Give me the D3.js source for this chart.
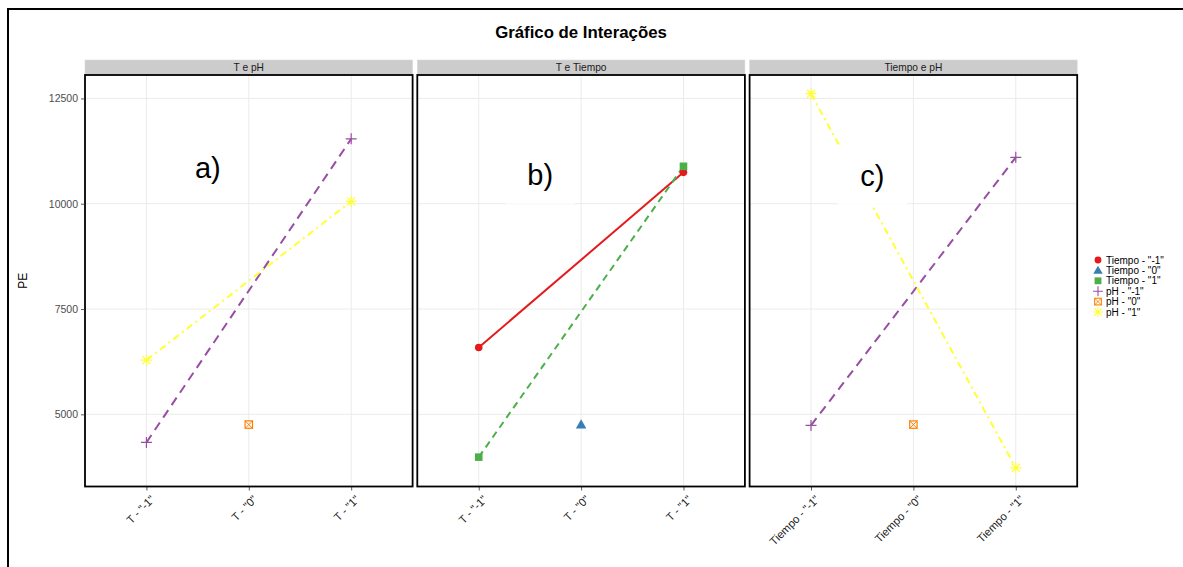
<!DOCTYPE html>
<html>
<head>
<meta charset="utf-8">
<script src="https://cdn.jsdelivr.net/npm/d3@7"></script>
<style>
  html, body { margin: 0; padding: 0; background: #fff; }
  svg { display: block; font-family: "Liberation Sans", Arial, sans-serif; }
</style>
</head>
<body>
<svg id="chart" width="1183" height="567"></svg>
<script>
// Factor levels and panel titles
const panelTitles = ["T e pH", "T e Tiempo", "Tiempo e pH"];
const panelTags = ["a)", "b)", "c)"];
const levelsT = ['T - "-1"', 'T - "0"', 'T - "1"'];
const levelsTiempo = ['Tiempo - "-1"', 'Tiempo - "0"', 'Tiempo - "1"'];
const yTicks = [5000, 7500, 10000, 12500];

// Mean PE per level (null = level not observed for that series)
const tPh_phM1 = [4333, null, 11540];
const tPh_ph0 = [null, 4757, null];
const tPh_ph1 = [6286, null, 10055];

const tTiempo_tiM1 = [6588, null, 10745];
const tTiempo_ti0 = [null, 4757, null];
const tTiempo_ti1 = [3984, null, 10888];

const tiPh_phM1 = [4738, null, 11102];
const tiPh_ph0 = [null, 4757, null];
const tiPh_ph1 = [12612, null, 3731];

// Series keys and legend labels
const seriesKeys = ["ti-1", "ti0", "ti1", "ph-1", "ph0", "ph1"];
const seriesLabels = ['Tiempo - "-1"', 'Tiempo - "0"', 'Tiempo - "1"', 'pH - "-1"', 'pH - "0"', 'pH - "1"'];

const panels = [
  { levels: levelsT, series: [["ph-1", tPh_phM1], ["ph0", tPh_ph0], ["ph1", tPh_ph1]] },
  { levels: levelsT, series: [["ti-1", tTiempo_tiM1], ["ti0", tTiempo_ti0], ["ti1", tTiempo_ti1]] },
  { levels: levelsTiempo, series: [["ph-1", tiPh_phM1], ["ph0", tiPh_ph0], ["ph1", tiPh_ph1]] }
];

// Visual styling per series
const style = {
  "ti-1": { color: "#E41A1C", dash: null, shape: "circle" },
  "ti0":  { color: "#377EB8", dash: null, shape: "triangle" },
  "ti1":  { color: "#4DAF4A", dash: "7,5", shape: "square" },
  "ph-1": { color: "#984EA3", dash: "9,6", shape: "plus" },
  "ph0":  { color: "#FF7F00", dash: null, shape: "squarecross" },
  "ph1":  { color: "#FFFF33", dash: "7,4,2,4", shape: "asterisk" }
};

const svg = d3.select("#chart");

// Outer frame
svg.append("rect").attr("x", 8).attr("y", 9).attr("width", 1300).attr("height", 700)
  .attr("fill", "none").attr("stroke", "#000").attr("stroke-width", 2);

// Title
svg.append("text").attr("x", 581).attr("y", 38).attr("text-anchor", "middle")
  .attr("font-size", 16.8).attr("font-weight", "bold").attr("fill", "#000")
  .text("Gráfico de Interações");

// Shared y scale with 5% expansion of the data range
const allVals = panels.flatMap(p => p.series.flatMap(s => s[1])).filter(v => v != null);
const yMinD = d3.min(allVals), yMaxD = d3.max(allVals);
const pad = (yMaxD - yMinD) * 0.05;
const plotTop = 75, plotBottom = 486.5;
const y = d3.scaleLinear().domain([yMinD - pad, yMaxD + pad]).range([plotBottom, plotTop]);

const panelLeft = [85, 417.3, 749.6];
const panelW = 327.6;
const stripH = 15;

function drawShape(g, shape, color, cx, cy) {
  const s = g.append("g").attr("transform", `translate(${cx},${cy})`);
  if (shape === "circle") {
    s.append("circle").attr("r", 3.8).attr("fill", color);
  } else if (shape === "triangle") {
    s.append("path").attr("d", d3.symbol(d3.symbolTriangle, 48)()).attr("fill", color)
      .attr("transform", "translate(0,0.8)");
  } else if (shape === "square") {
    s.append("rect").attr("x", -3.8).attr("y", -3.8).attr("width", 7.6).attr("height", 7.6).attr("fill", color);
  } else if (shape === "plus") {
    s.append("path").attr("d", "M-5.5,0H5.5M0,-5.5V5.5").attr("stroke", color).attr("stroke-width", 1.2);
  } else if (shape === "squarecross") {
    s.append("rect").attr("x", -3.7).attr("y", -3.7).attr("width", 7.4).attr("height", 7.4)
      .attr("fill", "none").attr("stroke", color).attr("stroke-width", 1.2);
    s.append("path").attr("d", "M-3.7,-3.7L3.7,3.7M3.7,-3.7L-3.7,3.7").attr("stroke", color).attr("stroke-width", 1);
  } else if (shape === "asterisk") {
    s.append("path").attr("d", "M-5.5,0H5.5M0,-5.5V5.5M-4,-4L4,4M4,-4L-4,4").attr("stroke", color).attr("stroke-width", 1.2);
  }
}

panels.forEach((p, i) => {
  const x0 = panelLeft[i];
  const x = d3.scalePoint().domain(p.levels).range([x0, x0 + panelW]).padding(0.6);
  const g = svg.append("g");

  // Strip
  g.append("rect").attr("x", x0).attr("y", plotTop - stripH).attr("width", panelW).attr("height", stripH)
    .attr("fill", "#CCCCCC").attr("stroke", "#D9D9D9").attr("stroke-width", 0.6);
  g.append("text").attr("x", x0 + panelW / 2).attr("y", plotTop - 4).attr("text-anchor", "middle")
    .attr("font-size", 10.2).attr("fill", "#1A1A1A").text(panelTitles[i]);

  // Grid
  g.selectAll(".hg").data(yTicks).enter().append("line")
    .attr("x1", x0).attr("x2", x0 + panelW).attr("y1", d => y(d)).attr("y2", d => y(d))
    .attr("stroke", "#EBEBEB").attr("stroke-width", 1);
  g.selectAll(".vg").data(p.levels).enter().append("line")
    .attr("x1", d => x(d)).attr("x2", d => x(d)).attr("y1", plotTop).attr("y2", plotBottom)
    .attr("stroke", "#EBEBEB").attr("stroke-width", 1);

  // x axis
  const xa = g.append("g").attr("transform", `translate(0,${plotBottom})`)
    .call(d3.axisBottom(x).tickSize(4).tickPadding(4));
  xa.select(".domain").remove();
  xa.selectAll(".tick line").attr("stroke", "#333").attr("stroke-width", 0.8);
  xa.selectAll(".tick text")
    .attr("font-size", 11.2).attr("fill", "#1A1A1A").attr("font-family", "Liberation Sans, Arial, sans-serif")
    .attr("text-anchor", "end").attr("x", 0).attr("y", 0).attr("dy", "0.71em")
    .attr("transform", "translate(3,8) rotate(-45)");

  // Lines
  p.series.forEach(([key, vals]) => {
    const pts = p.levels.map((lv, j) => [lv, vals[j]]).filter(d => d[1] != null);
    if (pts.length > 1) {
      const st = style[key];
      g.append("path").datum(pts)
        .attr("d", d3.line().x(d => x(d[0])).y(d => y(d[1])))
        .attr("fill", "none").attr("stroke", st.color).attr("stroke-width", 2)
        .attr("stroke-dasharray", st.dash);
    }
  });
  // Points
  p.series.forEach(([key, vals]) => {
    const st = style[key];
    p.levels.forEach((lv, j) => {
      if (vals[j] != null) drawShape(g, st.shape, st.color, x(lv), y(vals[j]));
    });
  });

  // Panel tag with white label box
  const tagY = [10850, 10690, 10670][i];
  const tx = x(p.levels[0]) + 0.6 * x.step();
  const ty = y(tagY);
  g.append("rect").attr("x", tx - 34.5).attr("y", ty - 29).attr("width", 69).attr("height", 58).attr("fill", "#fff");
  g.append("text").attr("x", tx).attr("y", ty).attr("dy", "0.35em").attr("text-anchor", "middle")
    .attr("font-size", 29).attr("fill", "#000").text(panelTags[i]);

  // Border
  g.append("rect").attr("x", x0).attr("y", plotTop).attr("width", panelW).attr("height", plotBottom - plotTop)
    .attr("fill", "none").attr("stroke", "#000").attr("stroke-width", 1.8);
});

// y axis
const ya = svg.append("g").attr("transform", `translate(${panelLeft[0]},0)`)
  .call(d3.axisLeft(y).tickValues(yTicks).tickSize(4).tickPadding(3).tickFormat(d3.format("d")));
ya.select(".domain").remove();
ya.selectAll(".tick line").attr("stroke", "#333").attr("stroke-width", 0.8);
ya.selectAll(".tick text").attr("font-size", 10.5).attr("fill", "#4D4D4D")
  .attr("font-family", "Liberation Sans, Arial, sans-serif");

svg.append("text").attr("transform", `translate(27,${(plotTop + plotBottom) / 2}) rotate(-90)`)
  .attr("text-anchor", "middle").attr("font-size", 12).attr("fill", "#000").text("PE");

// Legend
const lg = svg.append("g");
seriesKeys.forEach((k, i) => {
  const cy = 260 + i * 10.4;
  const st = style[k];
  const mg = lg.append("g").attr("transform", `translate(1098,${cy}) scale(0.9)`);
  drawShape(mg, st.shape, st.color, 0, 0);
  lg.append("text").attr("x", 1106).attr("y", cy).attr("dy", "0.35em")
    .attr("font-size", 10).attr("fill", "#000").text(seriesLabels[i]);
});
</script>
</body>
</html>
